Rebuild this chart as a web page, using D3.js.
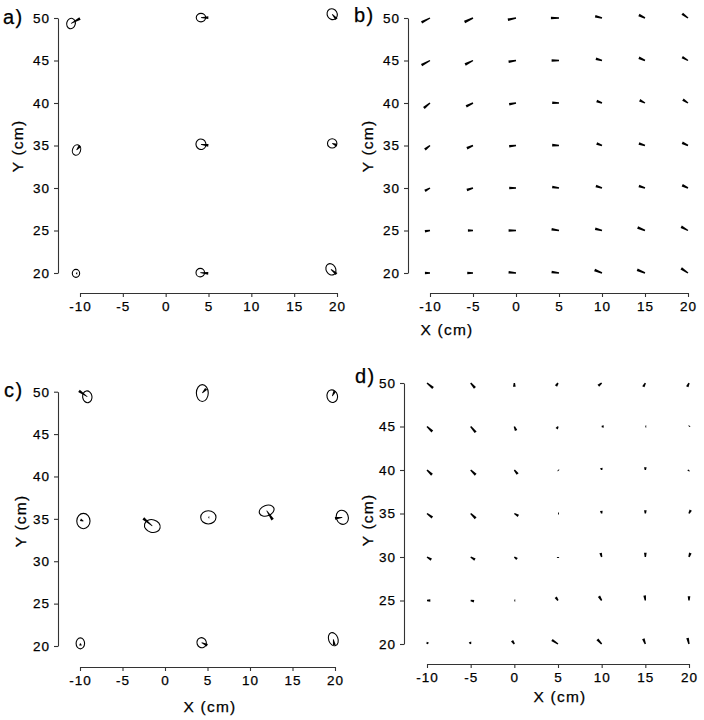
<!DOCTYPE html>
<html>
<head>
<meta charset="utf-8">
<script src="https://cdn.jsdelivr.net/npm/d3@7"></script>
<style>
    body { margin: 0; background: #fff; }
    svg text { font-family: "Liberation Sans", Arial, Helvetica, sans-serif; fill: #000; stroke: #000; stroke-width: 0.25px; }
</style>
</head>
<body>
<svg id="chart" width="704" height="720"></svg>
<script>
//tick values shared by all four panels
var xTicks = [-10, -5, 0, 5, 10, 15, 20];
var yTicks = [20, 25, 30, 35, 40, 45, 50];

//grid used by the vector fields (b and d), rows from top to bottom
var gridX = [-10, -5, 0, 5, 10, 15, 20];
var gridY = [50, 45, 40, 35, 30, 25, 20];

//panel a: [x, y, rx, ry, angle, u, v]  (cm, deg)
var ellipsesA = [
    [-11.05, 49.35, 0.50, 0.62, 15, 1.05, 0.59],
    [4.12, 50.05, 0.55, 0.50, 0, 0.86, 0],
    [19.44, 50.45, 0.58, 0.66, -30, 0.50, -0.59],
    [-10.40, 34.47, 0.47, 0.62, 20, 0.39, 0.47],
    [4.12, 35.14, 0.58, 0.62, -20, 0.86, -0.12],
    [19.44, 35.25, 0.55, 0.55, 0, 0.50, -0.20],
    [-10.47, 19.96, 0.43, 0.47, 0, 0.15, 0],
    [4.04, 20.04, 0.50, 0.50, 0, 0.93, -0.08],
    [19.29, 20.43, 0.55, 0.70, -30, 0.66, -0.55]
];

//panel c: [x, y, rx, ry, angle, u, v]
var ellipsesC = [
    [-9.14, 49.40, 0.55, 0.70, -10, -0.98, 0.70],
    [4.39, 49.84, 0.70, 1.00, 0, 0.45, 0.50],
    [19.68, 49.47, 0.62, 0.75, -15, 0.30, 0.60],
    [-9.60, 34.74, 0.78, 0.90, 0, -0.35, 0.15],
    [-1.49, 34.15, 0.94, 0.75, 15, -1.06, 0.90],
    [5.10, 35.18, 0.90, 0.78, 0, 0.05, 0],
    [11.96, 35.97, 0.90, 0.62, -20, 0.70, -1.06],
    [20.86, 35.18, 0.70, 0.85, -20, -0.86, -0.12],
    [-9.96, 20.31, 0.50, 0.65, 0, 0.02, -0.25],
    [4.31, 20.39, 0.55, 0.60, -20, 0.67, -0.31],
    [19.80, 20.80, 0.55, 0.80, -20, 0.12, -0.67]
];

//panel b vectors [u, v] per row (cm), rows follow gridY
var vectorsB = [
    [[-0.98, -0.51], [-0.98, -0.47], [-0.94, -0.20], [-0.94, 0], [-0.79, 0.20], [-0.71, 0.35], [-0.67, 0.51]],
    [[-0.98, -0.55], [-0.91, -0.47], [-0.86, -0.15], [-0.86, 0], [-0.71, 0.20], [-0.71, 0.32], [-0.67, 0.39]],
    [[-0.71, -0.59], [-0.79, -0.39], [-0.79, -0.15], [-0.79, 0.03], [-0.62, 0.24], [-0.62, 0.32], [-0.59, 0.39]],
    [[-0.59, -0.47], [-0.71, -0.32], [-0.79, -0.08], [-0.79, 0.04], [-0.62, 0.24], [-0.71, 0.24], [-0.67, 0.32]],
    [[-0.59, -0.35], [-0.71, -0.24], [-0.79, 0], [-0.79, 0.12], [-0.71, 0.24], [-0.71, 0.24], [-0.67, 0.32]],
    [[-0.59, -0.08], [-0.59, 0], [-0.86, 0], [-0.86, 0.15], [-0.79, 0.20], [-0.86, 0.35], [-0.79, 0.44]],
    [[-0.59, 0], [-0.67, 0], [-0.86, 0.08], [-0.86, 0.12], [-0.86, 0.35], [-0.91, 0.39], [-0.79, 0.55]]
];

//panel d vectors [u, v] per row (cm)
var vectorsD = [
    [[0.69, -0.57], [0.49, -0.57], [0, -0.43], [-0.23, -0.34], [-0.38, -0.31], [-0.23, -0.43], [-0.20, -0.43]],
    [[0.61, -0.57], [0.57, -0.66], [0.20, -0.46], [-0.15, -0.26], [0.23, 0], [0.04, 0], [0.04, 0.04]],
    [[0.57, -0.54], [0.57, -0.54], [0.38, -0.46], [0.04, -0.04], [-0.04, 0.23], [0, 0.31], [-0.08, -0.12]],
    [[0.61, -0.46], [0.57, -0.54], [0.46, -0.26], [0.08, 0], [-0.04, 0.31], [0, 0.38], [0.20, 0.38]],
    [[0.49, -0.31], [0.49, -0.31], [0.31, -0.23], [0, -0.06], [-0.12, 0.46], [0, 0.49], [0.15, 0.46]],
    [[0.38, 0], [0.38, -0.08], [0.08, 0], [-0.26, 0.38], [-0.31, 0.49], [-0.08, 0.57], [0, 0.49]],
    [[0.10, 0.20], [-0.08, 0.23], [-0.26, 0.38], [-0.69, 0.46], [-0.49, 0.54], [-0.23, 0.61], [-0.17, 0.69]]
];

//layout of the four panels (pixels)
var panels = [
    {name: "a)", xRange: [80, 337], yRange: [273, 18], yAxisX: 58, xAxisY: 293, label: [3, 24], yLabel: [23, 146], xLabel: null},
    {name: "b)", xRange: [430, 688], yRange: [273, 18], yAxisX: 408, xAxisY: 293, label: [354, 22], yLabel: [373, 146], xLabel: [447, 335]},
    {name: "c)", xRange: [80, 335], yRange: [646, 391.7], yAxisX: 58, xAxisY: 667, label: [4, 397], yLabel: [26, 521], xLabel: [210, 712]},
    {name: "d)", xRange: [427, 689], yRange: [644, 383], yAxisX: 404, xAxisY: 664, label: [355, 383], yLabel: [373, 520], xLabel: [560, 702]}
];

var svg = d3.select("#chart");

//draws a tapered arrow from p0 to p1 (thin at start, thick at tip)
function taperedPath(p0, p1, w0, w1){
    var dx = p1[0] - p0[0], dy = p1[1] - p0[1];
    var len = Math.sqrt(dx*dx + dy*dy);
    if (len < 0.9){
        //tiny vector, draw a dot-sized stub
        var a = len > 0 ? [dx/len, dy/len] : [1, 0];
        p1 = [p0[0] + a[0]*0.9, p0[1] + a[1]*0.9];
        dx = p1[0] - p0[0]; dy = p1[1] - p0[1]; len = 0.9;
    }
    var nx = -dy/len, ny = dx/len;
    return "M" + (p0[0] + nx*w0) + "," + (p0[1] + ny*w0) +
        "L" + (p1[0] + nx*w1) + "," + (p1[1] + ny*w1) +
        "L" + (p1[0] - nx*w1) + "," + (p1[1] - ny*w1) +
        "L" + (p0[0] - nx*w0) + "," + (p0[1] - ny*w0) + "Z";
}

function drawAxes(p){
    var x = d3.scaleLinear().domain([-10, 20]).range(p.xRange);
    var y = d3.scaleLinear().domain([20, 50]).range(p.yRange);
    var g = svg.append("g");

    var yAxis = d3.axisLeft(y).tickValues(yTicks).tickSize(4).tickSizeOuter(0).tickPadding(4);
    var xAxis = d3.axisBottom(x).tickValues(xTicks).tickSize(4).tickSizeOuter(0).tickPadding(4)
        .tickFormat(d3.format("d"));

    var yG = g.append("g").attr("transform", "translate(" + p.yAxisX + ",0)").call(yAxis);
    var xG = g.append("g").attr("transform", "translate(0," + p.xAxisY + ")").call(xAxis);

    [yG, xG].forEach(function(sel){
        sel.select(".domain").attr("stroke", "#333").attr("stroke-width", 1.1);
        sel.selectAll(".tick line").attr("stroke", "#333").attr("stroke-width", 1.1);
        sel.selectAll("text")
            .style("font-size", "13.5px")
            .style("letter-spacing", "1px")
            .attr("fill", "#000");
    });
    xG.selectAll(".tick text").text(function(d){ return d < 0 ? "-" + Math.abs(d) : d; });

    //panel label
    g.append("text")
        .attr("x", p.label[0]).attr("y", p.label[1])
        .style("font-size", "20px")
        .style("letter-spacing", "1.5px")
        .text(p.name);

    //axis titles
    g.append("text")
        .attr("transform", "translate(" + p.yLabel[0] + "," + p.yLabel[1] + ") rotate(-90)")
        .style("text-anchor", "middle")
        .style("font-size", "15.5px")
        .style("letter-spacing", "1.2px")
        .text("Y (cm)");

    if (p.xLabel){
        g.append("text")
            .attr("x", p.xLabel[0]).attr("y", p.xLabel[1])
            .style("text-anchor", "middle")
            .style("font-size", "15.5px")
            .style("letter-spacing", "1.2px")
            .text("X (cm)");
    }
    return {x: x, y: y, g: g};
}

function drawEllipses(ax, data){
    var x = ax.x, y = ax.y;
    var sel = ax.g.append("g").selectAll("g.ell").data(data).enter().append("g").attr("class", "ell");

    sel.append("ellipse")
        .attr("transform", function(d){
            return "translate(" + x(d[0]) + "," + y(d[1]) + ") rotate(" + d[4] + ")";
        })
        .attr("rx", function(d){ return x(d[0] + d[2]) - x(d[0]); })
        .attr("ry", function(d){ return y(d[1]) - y(d[1] + d[3]); })
        .style("fill", "none")
        .style("stroke", "#000")
        .style("stroke-width", 1.1);

    sel.append("path")
        .attr("d", function(d){
            return taperedPath([x(d[0]), y(d[1])], [x(d[0] + d[5]), y(d[1] + d[6])], 0.4, 1.4);
        })
        .style("fill", "#000");
}

function drawField(ax, vectors){
    var x = ax.x, y = ax.y;
    var flat = [];
    gridY.forEach(function(gy, i){
        gridX.forEach(function(gx, j){
            flat.push({x: gx, y: gy, u: vectors[i][j][0], v: vectors[i][j][1]});
        });
    });
    ax.g.append("g").selectAll("path").data(flat).enter().append("path")
        .attr("d", function(d){
            return taperedPath([x(d.x), y(d.y)], [x(d.x + d.u), y(d.y + d.v)], 0.7, 1.3);
        })
        .style("fill", "#000");
}

var axA = drawAxes(panels[0]);
drawEllipses(axA, ellipsesA);
var axB = drawAxes(panels[1]);
drawField(axB, vectorsB);
var axC = drawAxes(panels[2]);
drawEllipses(axC, ellipsesC);
var axD = drawAxes(panels[3]);
drawField(axD, vectorsD);
</script>
</body>
</html>
